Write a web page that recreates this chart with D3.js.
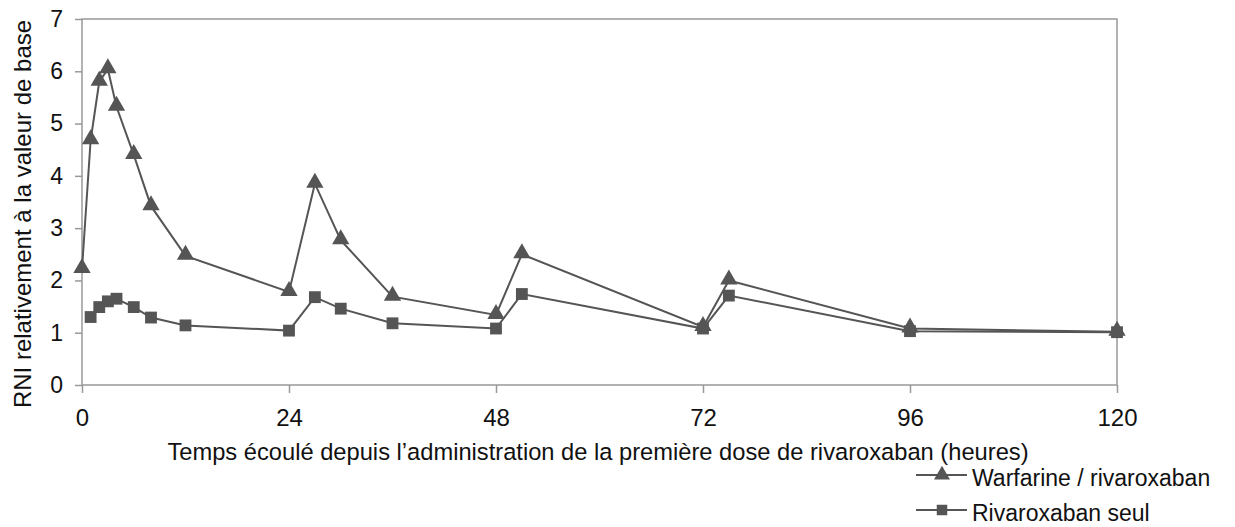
<!DOCTYPE html>
<html lang="fr">
<head>
    <meta charset="UTF-8">
    <title>RNI rivaroxaban</title>
    <style>
        body { margin: 0; background: #fff; }
        svg { display: block; }
        text { font-family: "Liberation Sans", Arial, sans-serif; fill: #111; }
        .frame { fill: none; stroke: #999; stroke-width: 1.5px; }
        .tick line { stroke: #999; stroke-width: 1.5px; }
        .serie { fill: none; stroke: #555; stroke-width: 2px; }
        .mark { fill: #555; }
    </style>
</head>
<body>
<script src="https://d3js.org/d3.v7.min.js"></script>
<script>
    // temps en heures
    var heuresWarf = [0, 1, 2, 3, 4, 6, 8, 12, 24, 27, 30, 36, 48, 51, 72, 75, 96, 120];
    var rniWarf    = [2.22, 4.68, 5.8, 6.04, 5.32, 4.4, 3.42, 2.47, 1.78, 3.85, 2.77, 1.69, 1.34, 2.5, 1.11, 2.0, 1.08, 1.02];

    var heuresRiva = [1, 2, 3, 4, 6, 8, 12, 24, 27, 30, 36, 48, 51, 72, 75, 96, 120];
    var rniRiva    = [1.3, 1.49, 1.6, 1.65, 1.49, 1.29, 1.14, 1.04, 1.68, 1.46, 1.18, 1.08, 1.74, 1.08, 1.71, 1.03, 1.01];

    var xTicks = [0, 24, 48, 72, 96, 120];
    var yTicks = [0, 1, 2, 3, 4, 5, 6, 7];

    var W = 1235, H = 527;
    var mLeft = 82, mRight = 1117, mTop = 19, mBottom = 385;

    var svg = d3.select("body").append("svg")
        .attr("width", W)
        .attr("height", H);

    var x = d3.scaleLinear().domain([0, 120]).range([mLeft, mRight]);
    var y = d3.scaleLinear().domain([0, 7]).range([mBottom, mTop]);

    // cadre du graphique
    svg.append("rect")
        .attr("class", "frame")
        .attr("x", mLeft).attr("y", mTop)
        .attr("width", mRight - mLeft).attr("height", mBottom - mTop);

    var xAxis = svg.append("g")
        .attr("transform", "translate(0," + mBottom + ")")
        .call(d3.axisBottom(x).tickValues(xTicks).tickSize(8).tickPadding(16).tickFormat(d3.format("d")));
    xAxis.select(".domain").remove();
    xAxis.selectAll("text").style("font-size", "24px").attr("fill", "#111");

    var yAxis = svg.append("g")
        .attr("transform", "translate(" + mLeft + ",0)")
        .call(d3.axisLeft(y).tickValues(yTicks).tickSize(7).tickPadding(12).tickFormat(d3.format("d")));
    yAxis.select(".domain").remove();
    yAxis.selectAll("text").style("font-size", "23px").attr("fill", "#111");

    // titres des axes
    svg.append("text")
        .attr("x", 598).attr("y", 460)
        .attr("text-anchor", "middle")
        .style("font-size", "23.7px")
        .text("Temps écoulé depuis l’administration de la première dose de rivaroxaban (heures)");

    svg.append("text")
        .attr("transform", "translate(31,214) rotate(-90)")
        .attr("text-anchor", "middle")
        .style("font-size", "24px")
        .text("RNI relativement à la valeur de base");

    var line = d3.line()
        .x(function (d) { return x(d[0]); })
        .y(function (d) { return y(d[1]); });

    var warf = d3.zip(heuresWarf, rniWarf);
    var riva = d3.zip(heuresRiva, rniRiva);

    var tri = d3.symbol().type(d3.symbolTriangle).size(130);
    var carre = d3.symbol().type(d3.symbolSquare).size(140);

    svg.append("path").datum(riva).attr("class", "serie").attr("d", line);
    svg.append("path").datum(warf).attr("class", "serie").attr("d", line);

    svg.append("g").selectAll("path")
        .data(riva)
        .enter().append("path")
        .attr("class", "mark")
        .attr("d", carre)
        .attr("transform", function (d) { return "translate(" + x(d[0]) + "," + y(d[1]) + ")"; });

    svg.append("g").selectAll("path")
        .data(warf)
        .enter().append("path")
        .attr("class", "mark")
        .attr("d", tri)
        .attr("transform", function (d) { return "translate(" + x(d[0]) + "," + (y(d[1]) - 1) + ")"; });

    // légende
    var legende = [
        { nom: "Warfarine / rivaroxaban", sym: tri, y: 475 },
        { nom: "Rivaroxaban seul", sym: carre, y: 510 }
    ];

    var lg = svg.append("g").selectAll("g")
        .data(legende)
        .enter().append("g")
        .attr("transform", function (d) { return "translate(0," + d.y + ")"; });

    lg.append("line")
        .attr("x1", 916).attr("x2", 967)
        .attr("stroke", "#555").attr("stroke-width", 2);

    lg.append("path")
        .attr("class", "mark")
        .attr("d", function (d) { return d.sym.size(110)(); })
        .attr("transform", "translate(942,0)");

    lg.append("text")
        .attr("x", 972).attr("y", 11)
        .style("font-size", "23px")
        .text(function (d) { return d.nom; });
</script>
</body>
</html>
